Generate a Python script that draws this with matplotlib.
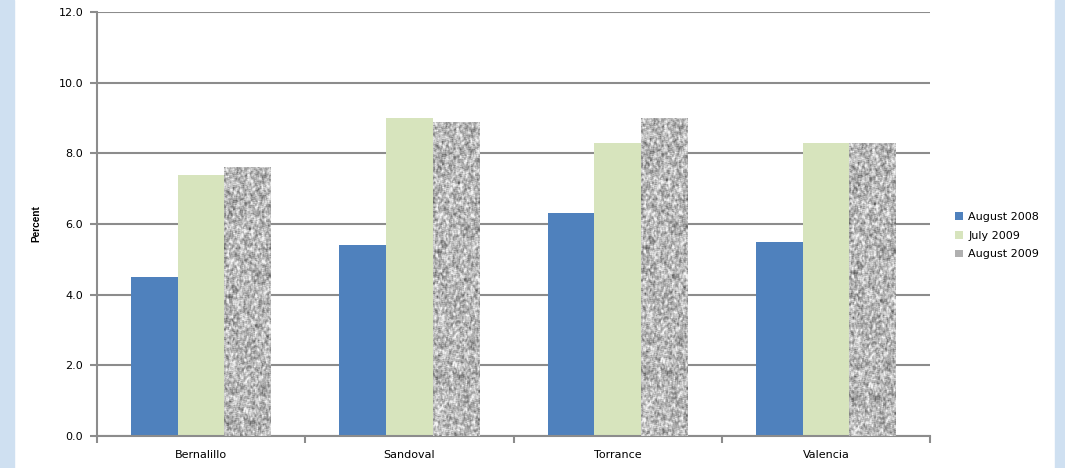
import numpy as np
import matplotlib
matplotlib.use("Agg")
import matplotlib.pyplot as plt
from matplotlib.patches import Rectangle

categories = ["Bernalillo", "Sandoval", "Torrance", "Valencia"]
series_names = ["August 2008", "July 2009", "August 2009"]
aug2008 = [4.5, 5.4, 6.3, 5.5]
jul2009 = [7.4, 9.0, 8.3, 8.3]
aug2009 = [7.6, 8.9, 9.0, 8.3]
yticks = [0.0, 2.0, 4.0, 6.0, 8.0, 10.0, 12.0]

plt.rcParams['font.family'] = ['DejaVu Sans']
FS = 8

fig = plt.figure(figsize=(10.65, 4.68), dpi=100)
fig.patch.set_facecolor('white')
fig.add_artist(Rectangle((0, 0), 14/1065, 1, transform=fig.transFigure, color='#cfe0f1', zorder=0))
fig.add_artist(Rectangle((1055/1065, 0), 10/1065, 1, transform=fig.transFigure, color='#cfe0f1', zorder=0))

ax = fig.add_axes([97/1065, 1 - 436/468, (930-97)/1065, (436-12)/468])
x = np.arange(len(categories))
w = 0.224
grid_c = '#8c8c8c'
ax.set_ylim(0, 12)
ax.set_xlim(-0.5, len(categories) - 0.5)
ax.set_yticks(yticks)
ax.set_yticklabels([f"{v:.1f}" for v in yticks], fontsize=FS)
ax.yaxis.grid(True, color=grid_c, linewidth=1.5)
ax.set_axisbelow(True)

b1 = ax.bar(x - w, aug2008, w, color='#4f81bd', label=series_names[0], zorder=2)
b2 = ax.bar(x, jul2009, w, color='#d7e4bd', label=series_names[1], zorder=2)
b3 = ax.bar(x + w, aug2009, w, color='#a6a6a6', label=series_names[2], zorder=2)

# speckled texture for the August 2009 bars (style only)
rng = np.random.default_rng(3)
raw = rng.random((420, 60))
k = 2
pad = np.pad(raw, k, mode='wrap')
sm = np.zeros_like(raw)
for dy in range(-k + 1, k):
    for dx in range(-k + 1, k):
        sm += pad[k+dy:k+dy+raw.shape[0], k+dx:k+dx+raw.shape[1]]
sm /= (2*k - 1) ** 2
sm = (sm - sm.mean()) / sm.std()
tex = np.clip(0.72 + 0.10 * sm, 0.35, 0.95)
for rect in b3:
    rx, ry = rect.get_x(), rect.get_y()
    rw, rh = rect.get_width(), rect.get_height()
    rows = int(tex.shape[0] * rh / 12)
    im = ax.imshow(tex[:max(rows, 2)], cmap='gray', vmin=0, vmax=1,
                   extent=(rx, rx + rw, ry, ry + rh), aspect='auto',
                   interpolation='nearest', zorder=3)
    im.set_clip_path(rect)
ax.set_aspect('auto')
ax.set_xlim(-0.5, len(categories) - 0.5)
ax.set_ylim(0, 12)

ax.set_xticks(x)
ax.set_xticklabels(categories, fontsize=FS)
ax.tick_params(axis='x', length=0, pad=10)
ax.set_xticks(np.arange(len(categories) + 1) - 0.5, minor=True)
ax.tick_params(axis='x', which='minor', length=5, color=grid_c, width=1.5, direction='out')
ax.tick_params(axis='y', length=5, color=grid_c, width=1.5, direction='out', pad=5)

for s in ['top', 'right']:
    ax.spines[s].set_visible(False)
for s in ['left', 'bottom']:
    ax.spines[s].set_color(grid_c)
    ax.spines[s].set_linewidth(1.5)

ax.set_ylabel("Percent", fontsize=7.3, fontweight='bold',
              family=['Liberation Sans', 'DejaVu Sans'])
ax.yaxis.set_label_coords((41 - 97) / 833, 0.5)

leg = fig.legend(handles=[b1, b2, b3], labels=series_names, loc='upper left',
                 bbox_to_anchor=(945/1065, 1 - 202/468), frameon=False,
                 fontsize=FS, handlelength=0.7, handleheight=0.7,
                 handletextpad=0.5, labelspacing=0.78)
leg.legend_handles[2].set_facecolor('#b0b0b0')

fig.savefig("out.png", dpi=100)
